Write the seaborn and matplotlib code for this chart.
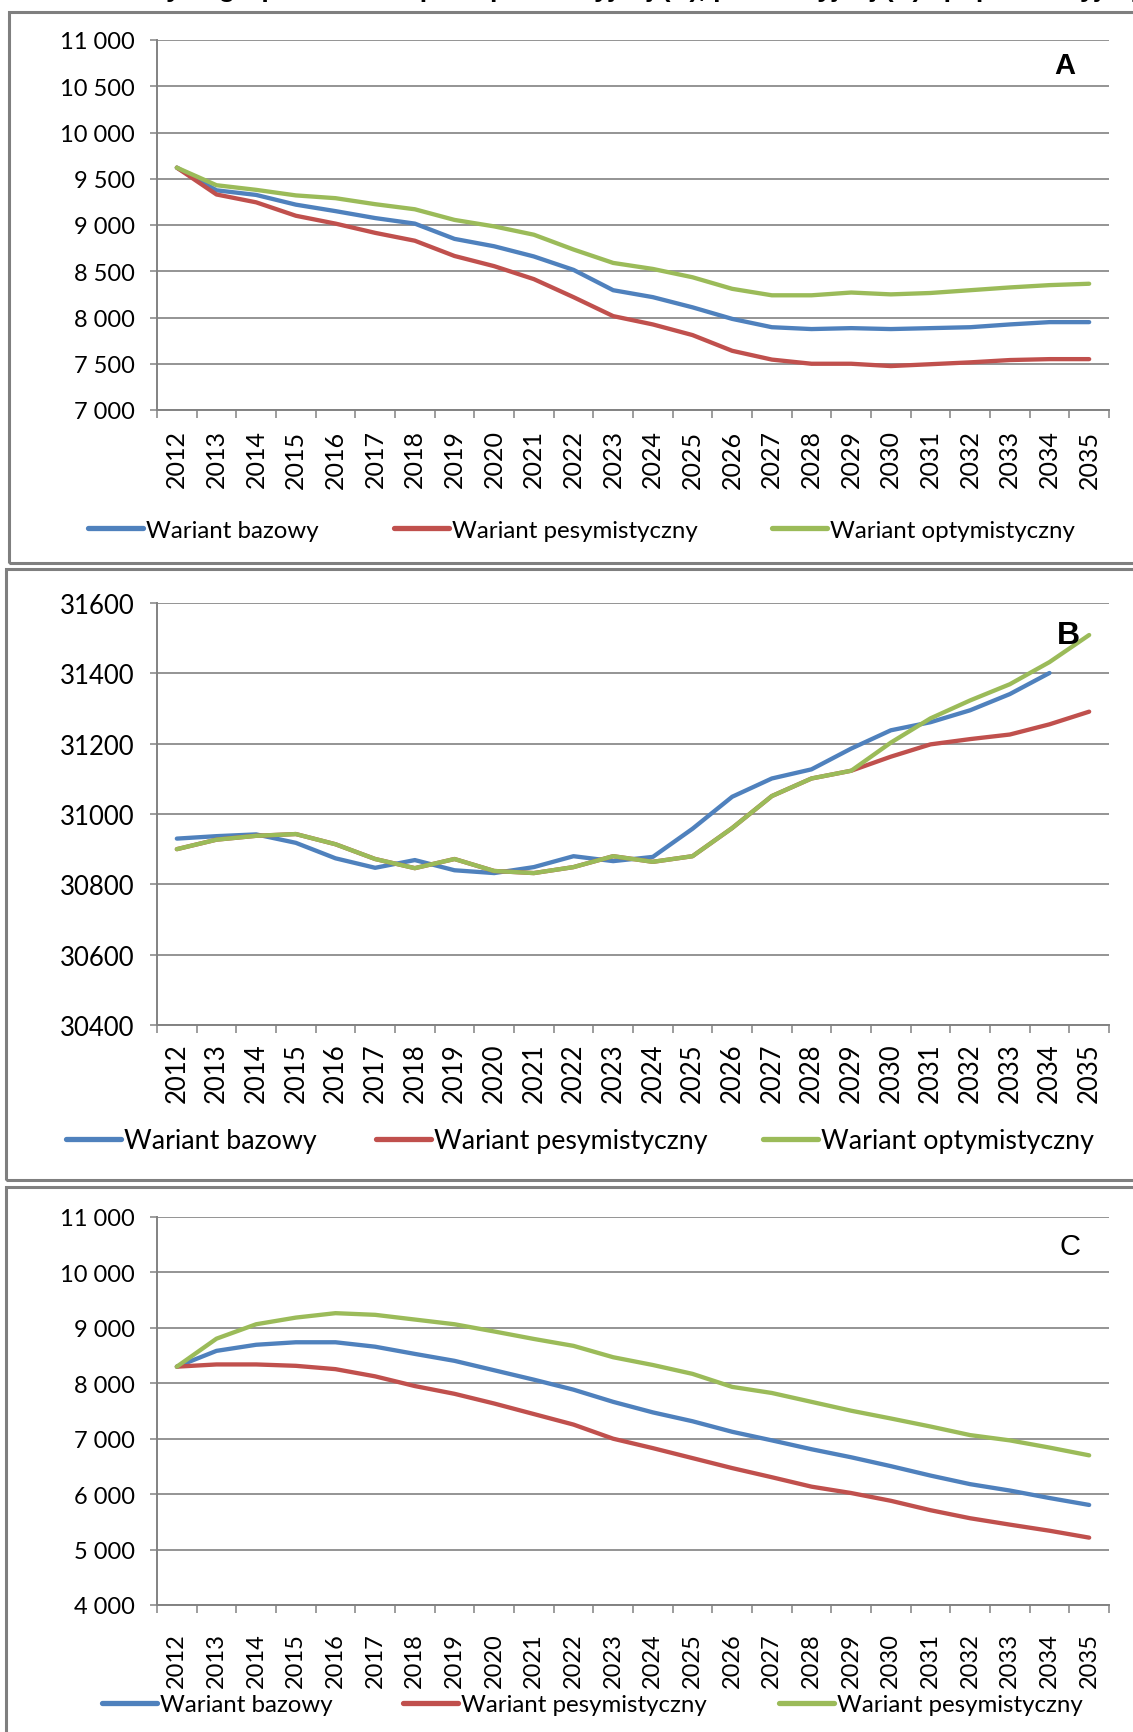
import numpy as np
import pandas as pd
import matplotlib
matplotlib.use("Agg")
import matplotlib.pyplot as plt
import matplotlib.ticker as ticker
from matplotlib.patches import Rectangle
from matplotlib.lines import Line2D
import seaborn as sns

sns.set_theme(style="white")
plt.rcParams["font.family"] = ["Lato", "DejaVu Sans"]
plt.rcParams["text.color"] = "black"

W, H = 1133, 1733
GRID = "#828282"

years = list(range(2012, 2036))
variants = ["bazowy", "pesymistyczny", "optymistyczny"]
colors = ["#4F81BD", "#C0504D", "#9BBB59"]
labels_ab = ["Wariant bazowy", "Wariant pesymistyczny", "Wariant optymistyczny"]
labels_c = ["Wariant bazowy", "Wariant pesymistyczny", "Wariant pesymistyczny"]

# Panel A
a_base = [9620, 9375, 9325, 9220, 9150, 9075, 9015, 8850, 8770, 8660, 8515, 8295,
          8220, 8110, 7985, 7895, 7875, 7885, 7875, 7885, 7895, 7925, 7950, 7950]
a_pes = [9620, 9330, 9245, 9100, 9015, 8915, 8830, 8665, 8555, 8415, 8220, 8015,
         7925, 7810, 7640, 7545, 7500, 7500, 7475, 7495, 7515, 7540, 7550, 7550]
a_opt = [9620, 9430, 9380, 9320, 9290, 9225, 9170, 9055, 8985, 8895, 8735, 8590,
         8525, 8435, 8310, 8240, 8240, 8270, 8250, 8265, 8295, 8325, 8350, 8365]

# Panel B
b_base = [30930, 30937, 30942, 30918, 30874, 30847, 30869, 30840, 30832, 30849, 30880, 30866,
          30878, 30958, 31049, 31101, 31127, 31186, 31238, 31261, 31295, 31341, 31401, np.nan]
b_pes = [30900, 30927, 30938, 30943, 30914, 30872, 30846, 30872, 30838, 30832, 30849, 30880,
         30864, 30880, 30960, 31051, 31101, 31123, 31163, 31198, 31213, 31226, 31255, 31291]
b_opt = [30900, 30927, 30938, 30943, 30914, 30872, 30846, 30872, 30838, 30832, 30849, 30880,
         30864, 30880, 30960, 31051, 31101, 31123, 31203, 31272, 31323, 31369, 31432, 31509]

# Panel C
c_base = [8300, 8585, 8695, 8740, 8740, 8660, 8530, 8405, 8235, 8065, 7885, 7665,
          7475, 7315, 7125, 6970, 6810, 6665, 6505, 6335, 6180, 6065, 5930, 5805]
c_pes = [8300, 8340, 8340, 8315, 8255, 8125, 7950, 7810, 7635, 7445, 7255, 7000,
         6830, 6650, 6470, 6305, 6135, 6020, 5880, 5710, 5565, 5450, 5340, 5215]
c_opt = [8300, 8805, 9065, 9185, 9265, 9235, 9150, 9065, 8935, 8800, 8675, 8470,
         8330, 8170, 7935, 7825, 7665, 7505, 7365, 7220, 7065, 6970, 6840, 6700]

title = ("Rys. 4. Liczba ludności w ekonomicznych grupach wieku: "
         "przedprodukcyjnej (A), produkcyjnej (B) i poprodukcyjnej (C)")


def space_fmt(v, pos):
    return f"{v:,.0f}".replace(",", " ")


def fx(px):
    return px / W


def fy(py):
    return 1 - py / H


fig = plt.figure(figsize=(W / 100, H / 100), dpi=100)

# panel frames
for x0, y0, y1 in [(9, 13, 564), (6, 570, 1181), (6, 1188, 1760)]:
    fig.add_artist(Rectangle((fx(x0), fy(y1)), fx(1200 - x0), (y1 - y0) / H,
                             transform=fig.transFigure, fill=False,
                             edgecolor="#7f7f7f", lw=2.2))

panels = [
    dict(data=(a_base, a_pes, a_opt), top=41, bottom=411, ylim=(7000, 11000),
         yticks=np.arange(7000, 11001, 500), fmt=space_fmt, letter="A",
         letter_xy=(1065, 66), letter_w="bold", letter_fs=21, labels=labels_ab,
         xfs=18, xpad=14, yfs=17,
         leg_y=531, leg_x=[88, 394, 772], leg_fs=17.3),
    dict(data=(b_base, b_pes, b_opt), top=604, bottom=1026, ylim=(30400, 31600),
         yticks=np.arange(30400, 31601, 200), fmt=lambda v, p: f"{v:.0f}", letter="B",
         letter_xy=(1068, 636), letter_w="bold", letter_fs=23, labels=labels_ab,
         xfs=18.5, xpad=12.5, yfs=18.5,
         leg_y=1142, leg_x=[66, 376, 763], leg_fs=19.3),
    dict(data=(c_base, c_pes, c_opt), top=1218, bottom=1606, ylim=(4000, 11000),
         yticks=np.arange(4000, 11001, 1000), fmt=space_fmt, letter="C",
         letter_xy=(1070, 1247), letter_w="normal", letter_fs=21, labels=labels_c,
         xfs=17, xpad=19.5, yfs=17,
         leg_y=1706, leg_x=[102, 403, 779], leg_fs=17.3),
]

for p in panels:
    ax = fig.add_axes([fx(157), fy(p["bottom"]), fx(1109 - 157), (p["bottom"] - p["top"]) / H])
    df = pd.DataFrame({
        "Rok": years * 3,
        "Wartosc": list(p["data"][0]) + list(p["data"][1]) + list(p["data"][2]),
        "Wariant": [v for v in variants for _ in years],
    })
    sns.lineplot(data=df, x="Rok", y="Wartosc", hue="Wariant", hue_order=variants,
                 palette=dict(zip(variants, colors)), linewidth=3.1, legend=False,
                 estimator=None, ax=ax, solid_capstyle="round", solid_joinstyle="round")
    ax.set_xlabel("")
    ax.set_ylabel("")
    ax.set_ylim(*p["ylim"])
    ax.set_yticks(p["yticks"])
    ax.yaxis.set_major_formatter(ticker.FuncFormatter(p["fmt"]))
    ax.yaxis.grid(True, color=GRID, lw=1.2)
    ax.xaxis.grid(False)
    ax.set_axisbelow(True)

    ax.set_xlim(2011.5, 2035.5)
    ax.set_xticks(np.arange(2011.5, 2036, 1.0))
    ax.xaxis.set_major_formatter(ticker.NullFormatter())
    ax.set_xticks(years, minor=True)
    ax.set_xticklabels([str(y) for y in years], minor=True, rotation=90)

    ax.tick_params(axis="x", which="major", bottom=True, length=6, width=1.1,
                   color=GRID, direction="out")
    ax.tick_params(axis="x", which="minor", bottom=True, length=0, pad=p["xpad"],
                   labelsize=p["xfs"], labelcolor="black")
    ax.tick_params(axis="y", left=True, length=5, width=1.1, color=GRID,
                   direction="out", pad=11, labelsize=p["yfs"], labelcolor="black")
    for s in ["top", "right"]:
        ax.spines[s].set_visible(False)
    for s in ["left", "bottom"]:
        ax.spines[s].set_color(GRID)
        ax.spines[s].set_linewidth(1.4)

    fig.text(fx(p["letter_xy"][0]), fy(p["letter_xy"][1]), p["letter"],
             ha="center", va="center", fontsize=p["letter_fs"], fontweight=p["letter_w"],
             family="Liberation Sans")

    fs = p["leg_fs"]
    hl = 55 / (fs * 100 / 72)
    for col, lab, x0 in zip(colors, p["labels"], p["leg_x"]):
        h = Line2D([], [], color=col, lw=3.8)
        fig.legend([h], [lab], loc="center left", bbox_to_anchor=(fx(x0), fy(p["leg_y"])),
                   frameon=False, fontsize=fs, handlelength=hl, handletextpad=0.12,
                   borderaxespad=0, borderpad=0)

# title line, cut off by the top edge as in the source scan
fig.text(1.045, fy(-3), title, ha="right", va="baseline", fontsize=19,
         fontweight="bold", family="Liberation Sans")

fig.savefig("out.png", dpi=100)
